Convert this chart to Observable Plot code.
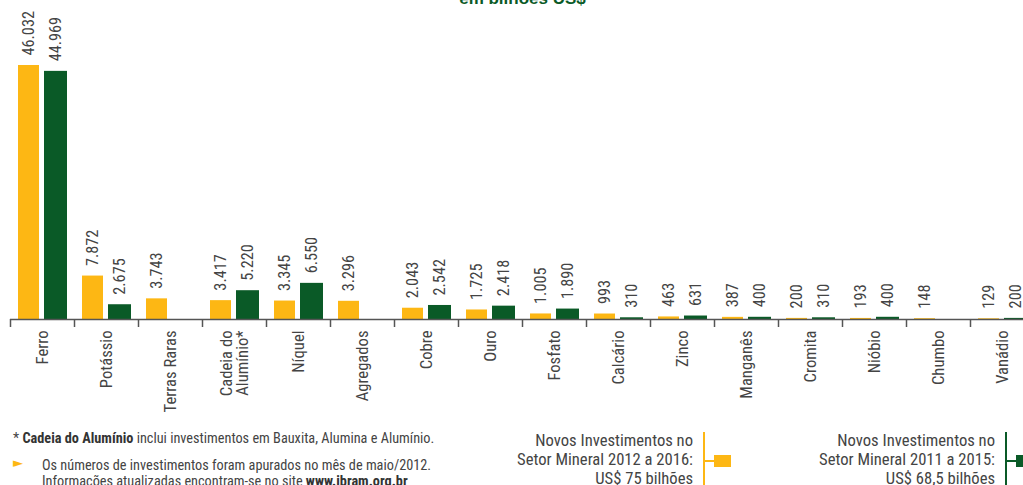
<!DOCTYPE html>
<html>
<head>
<meta charset="utf-8">
<script src="https://cdn.jsdelivr.net/npm/d3@7"></script>
<script src="https://cdn.jsdelivr.net/npm/@observablehq/plot@0.6"></script>
<style>
  html, body { margin: 0; padding: 0; background: #fff; }
  #wrap { position: relative; width: 1023px; height: 485px; overflow: hidden; color: #444; }
  #title { position: absolute; left: 0; width: 1045px; top: -11px; text-align: center;
           font-family: "Liberation Sans", Arial, sans-serif; font-weight: bold; font-size: 17px; color: #0a5a27; }
  #chart { position: absolute; left: 0; top: 0; }
  .note { position: absolute; white-space: nowrap; color: #444; }
  .note b { color: #333; }
  .arrow { position: absolute; color: #fdb714; font-size: 13px; font-family: "DejaVu Sans", sans-serif; }
  .leg { position: absolute; line-height: 19px; text-align: right; white-space: nowrap; color: #444; }
  .vline { position: absolute; width: 2px; }
  .hline { position: absolute; height: 2px; }
  .sq { position: absolute; }
</style>
</head>
<body>
<div id="wrap">
  <div id="title"></div>
  <div id="chart"></div>
</div>
<script>
// ---- data ----
const categories = ["Ferro", "Potássio", "Terras Raras", "Cadeia do\nAlumínio*", "Níquel", "Agregados", "Cobre", "Ouro",
  "Fosfato", "Calcário", "Zinco", "Manganês", "Cromita", "Nióbio", "Chumbo", "Vanádio"];
const values2012 = [46032, 7872, 3743, 3417, 3345, 3296, 2043, 1725, 1005, 993, 463, 387, 200, 193, 148, 129];
const values2011 = [44969, 2675, null, 5220, 6550, null, 2542, 2418, 1890, 310, 631, 400, 310, 400, null, 200];
const seriesLabels = [
  "Novos Investimentos no\nSetor Mineral 2012 a 2016:\nUS$ 75 bilhões",
  "Novos Investimentos no\nSetor Mineral 2011 a 2015:\nUS$ 68,5 bilhões"
];
const seriesColors = ["#fdb714", "#0a5a27"];
const titleText = "em bilhões US$";
const note1 = "* <b>Cadeia do Alumínio</b> inclui investimentos em Bauxita, Alumina e Alumínio.";
const note2 = "Os números de investimentos foram apurados no mês de maio/2012.<br>Informações atualizadas encontram-se no site <b>www.ibram.org.br</b>";

// ---- font choice: the narrowest installed sans, sized to the reference text widths ----
const ctx = document.createElement("canvas").getContext("2d");
function widthOf(fam, txt, size) { ctx.font = `${size}px ${fam}`; return ctx.measureText(txt).width; }
function installed(name) {
  const probe = "Terras Raras 46.032 abcxyz";
  return ["monospace", "serif"].every(fb => widthOf(`"${name}", ${fb}`, probe, 40) !== widthOf(fb, probe, 40));
}
const candidates = ["Liberation Sans Narrow", "Arial Narrow", "Roboto Condensed", "Noto Sans Condensed",
  "Open Sans Condensed", "DejaVu Sans Condensed", "Liberation Sans"];
const famName = candidates.find(installed) || "sans-serif";
const fam = `"${famName}", sans-serif`;
const fit = (txt, w) => w / widthOf(fam, txt, 100) * 100;
const catSize = fit("Terras Raras", 82);
const valSize = fit("46.032", 42) * 1.06;
const noteSize = fit("* Cadeia do Alumínio inclui investimentos em Bauxita, Alumina e Alumínio.", 420);
const legSize = fit("Setor Mineral 2012 a 2016:", 176);

// ---- build ----
const locale = d3.formatLocale({decimal: ",", thousands: ".", grouping: [3], currency: ["", ""]});
const fmt = locale.format(",");
const rows2012 = categories.map((c, i) => ({cat: c, v: values2012[i]}));
const rows2011 = categories.map((c, i) => ({cat: c, v: values2011[i]})).filter(d => d.v != null);

const plot = Plot.plot({
  width: 1023,
  height: 420,
  marginTop: 65,
  marginBottom: 101,
  marginLeft: 10,
  marginRight: 0,
  style: {fontFamily: fam, fontSize: catSize + "px", color: "#444", overflow: "visible"},
  x: {domain: categories, range: [10, 1034], padding: 0, label: null},
  y: {domain: [0, d3.max(values2012)], axis: null},
  marks: [
    Plot.barY(rows2012, {x: "cat", y: "v", fill: seriesColors[0], insetLeft: 8, insetRight: 35}),
    Plot.barY(rows2011, {x: "cat", y: "v", fill: seriesColors[1], insetLeft: 34, insetRight: 7}),
    Plot.text(rows2012, {x: "cat", y: "v", text: d => fmt(d.v), rotate: -90, textAnchor: "start",
      dx: -14, dy: -10, fill: "#444", fontSize: valSize}),
    Plot.text(rows2011, {x: "cat", y: "v", text: d => fmt(d.v), rotate: -90, textAnchor: "start",
      dx: 13, dy: -10, fill: "#444", fontSize: valSize}),
    Plot.ruleY([0], {stroke: "#555", strokeWidth: 1.5}),
    Plot.ruleX(categories, {x: d => d, y1: 0, y2: 0, dx: -32, insetBottom: -8, stroke: "#555", strokeWidth: 1.5}),
    Plot.axisX({tickRotate: -90, tickSize: 0, tickPadding: 11, fontSize: catSize, fill: "#444", label: null})
  ]
});
document.getElementById("chart").appendChild(plot);
document.getElementById("title").textContent = titleText;

// ---- notes & legend ----
const wrap = document.getElementById("wrap");
function add(cls, html, css) {
  const el = document.createElement("div");
  el.className = cls;
  el.innerHTML = html;
  Object.assign(el.style, css);
  wrap.appendChild(el);
  return el;
}
add("note", note1, {left: "13px", top: "430px", fontFamily: fam, fontSize: noteSize + "px", lineHeight: "16px"});
add("arrow", "&#9658;", {left: "13px", top: "455px"});
add("note", note2, {left: "42px", top: "457px", fontFamily: fam, fontSize: noteSize + "px", lineHeight: "16px"});

const legendX = [703, 1005];
seriesLabels.forEach((lab, i) => {
  add("leg", lab.split("\n").join("<br>"), {right: (1023 - legendX[i] + 10) + "px", top: "431px",
    fontFamily: fam, fontSize: legSize + "px"});
  add("vline", "", {left: legendX[i] + "px", top: "432px", height: "60px", background: seriesColors[i]});
  add("hline", "", {left: legendX[i] + "px", top: "460px", width: "12px", background: seriesColors[i]});
  add("sq", "", {left: (legendX[i] + 11) + "px", top: "455px", width: "17px", height: "12px", background: seriesColors[i]});
});
</script>
</body>
</html>
